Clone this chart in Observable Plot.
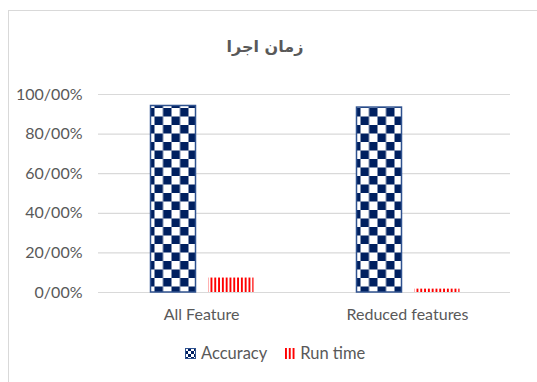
<!DOCTYPE html>
<html>
<head>
<meta charset="utf-8">
<script src="https://cdn.jsdelivr.net/npm/d3@7"></script>
<script src="https://cdn.jsdelivr.net/npm/@observablehq/plot@0.6"></script>
<style>
  html, body { margin: 0; padding: 0; background: #fff; overflow: hidden; }
  #frame {
    position: absolute; left: 8px; top: 10px; width: 640px; height: 480px;
    border-left: 1px solid #d9d9d9; border-top: 1px solid #d9d9d9;
  }
  #title {
    position: absolute; left: 0; top: 36px; width: 530px; line-height: 22px;
    text-align: center; font-family: "DejaVu Sans", sans-serif; font-weight: bold;
    font-size: 16px; color: #595959;
  }
  #plot { position: absolute; left: 0; top: 74px; }
  #legend {
    position: absolute; left: 185px; top: 343px; height: 20px; display: flex;
    align-items: center; font-family: Lato, sans-serif; font-size: 16.5px; color: #595959;
  }
  #legend .item { display: flex; align-items: center; margin-right: 18px; }
  #legend svg { margin-right: 5px; }
</style>
</head>
<body>
<svg width="0" height="0" style="position:absolute">
  <defs>
    <pattern id="checker" patternUnits="userSpaceOnUse" width="17" height="17">
      <rect width="17" height="17" fill="#ffffff"></rect>
      <rect x="8.5" y="0" width="8.5" height="8.5" fill="#002060"></rect>
      <rect x="0" y="8.5" width="8.5" height="8.5" fill="#002060"></rect>
    </pattern>
    <pattern id="checkerSmall" patternUnits="userSpaceOnUse" width="6" height="6">
      <rect width="6" height="6" fill="#ffffff"></rect>
      <rect x="3" y="0" width="3" height="3" fill="#002060"></rect>
      <rect x="0" y="3" width="3" height="3" fill="#002060"></rect>
    </pattern>
    <pattern id="stripes" patternUnits="userSpaceOnUse" width="3.8" height="4">
      <rect width="3.8" height="4" fill="#ffffff"></rect>
      <rect x="0" y="0" width="1.9" height="4" fill="#ff0000"></rect>
    </pattern>
  </defs>
</svg>
<div id="frame"></div>
<div id="title">زمان اجرا</div>
<div id="plot"></div>
<div id="legend">
  <div class="item">
    <svg width="11" height="11"><rect x="0.5" y="0.5" width="10" height="10" fill="url(#checkerSmall)" stroke="#2f528f"></rect></svg>
    <span>Accuracy</span>
  </div>
  <div class="item">
    <svg width="10" height="11"><rect x="0" y="0" width="10" height="11" fill="url(#stripes)"></rect></svg>
    <span>Run time</span>
  </div>
</div>
<script>
const categories = ["All Feature", "Reduced features"];
const seriesNames = ["Accuracy", "Run time"];
const accuracy = [0.942, 0.934];
const runTime = [0.073, 0.017];
const yTicks = [0, 0.2, 0.4, 0.6, 0.8, 1];

const rows = categories.flatMap((c, i) => [
  {category: c, series: seriesNames[0], value: accuracy[i]},
  {category: c, series: seriesNames[1], value: runTime[i]}
]);

// percent labels with "/" as the decimal separator
const pct = d => d3.format(".2%")(d).replace(".", "/");

const chart = Plot.plot({
  width: 537,
  height: 262,
  marginLeft: 98,
  marginRight: 27,
  marginTop: 20,
  marginBottom: 44,
  style: {fontFamily: "Lato, sans-serif", fontSize: "16px", color: "#595959", background: "transparent", overflow: "visible"},
  fx: {domain: categories, padding: 0, label: null, axis: "bottom", tickSize: 0, tickPadding: 16},
  x: {domain: seriesNames, paddingInner: 0.22, paddingOuter: 0.856, axis: null},
  y: {domain: [0, 1], ticks: yTicks, tickFormat: pct, label: null, tickSize: 0, tickPadding: 16},
  marks: [
    Plot.ruleY(yTicks, {stroke: "#d9d9d9", strokeWidth: 1.2}),
    Plot.barY(rows.filter(d => d.series === seriesNames[0]), {
      fx: "category", x: "series", y: "value", dx: 1.5,
      fill: "url(#checker)", stroke: "#2f528f", strokeWidth: 1.5
    }),
    Plot.barY(rows.filter(d => d.series === seriesNames[1]), {
      fx: "category", x: "series", y: "value", dx: 1.5,
      fill: "url(#stripes)"
    })
  ]
});
document.getElementById("plot").appendChild(chart);
</script>
</body>
</html>
